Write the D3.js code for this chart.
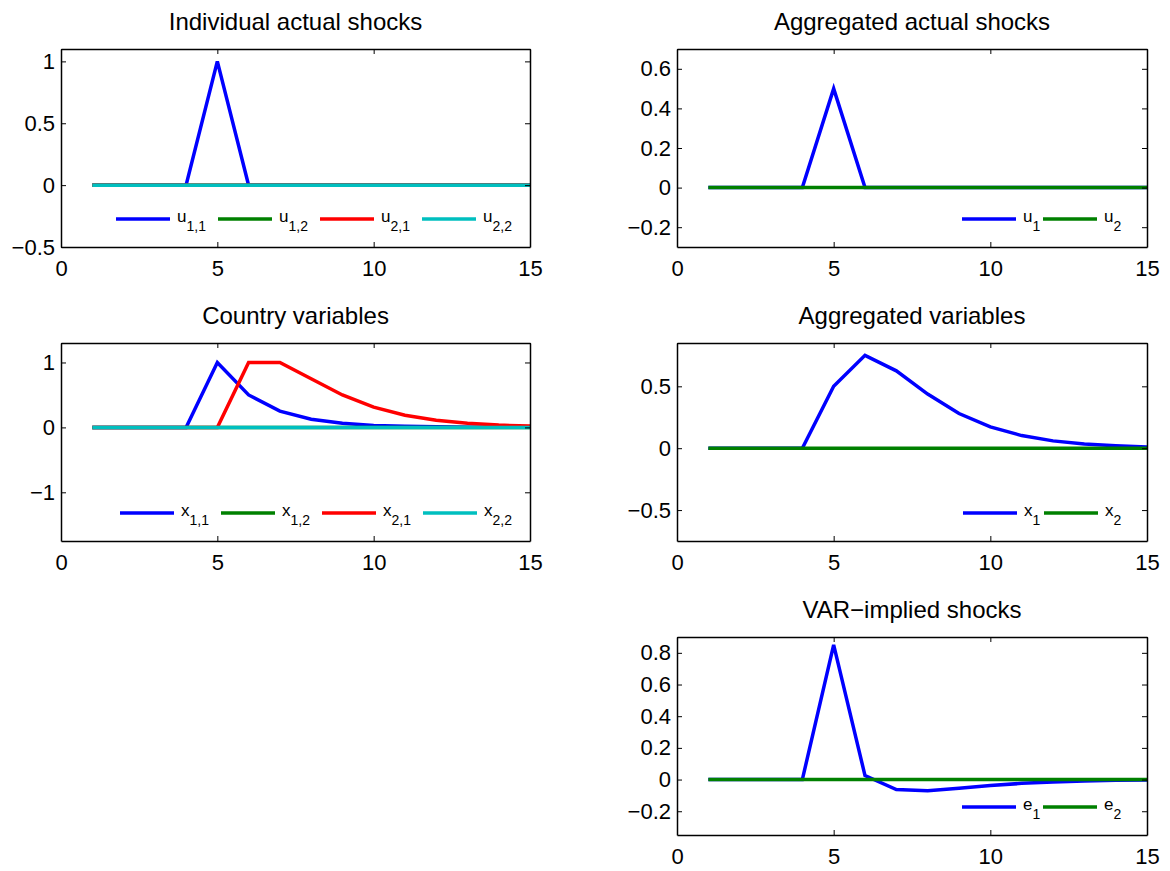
<!DOCTYPE html>
<html>
<head>
<meta charset="utf-8">
<script src="https://cdn.jsdelivr.net/npm/d3@7"></script>
<style>
  body { margin: 0; background: #fff; }
  svg { font-family: "Liberation Sans", Arial, sans-serif; }
</style>
</head>
<body>
<script>
// periods 1..15
var periods = [1, 2, 3, 4, 5, 6, 7, 8, 9, 10, 11, 12, 13, 14, 15];

// individual actual shocks
var u11 = [0, 0, 0, 0, 1, 0, 0, 0, 0, 0, 0, 0, 0, 0, 0];
var u12 = [0, 0, 0, 0, 0, 0, 0, 0, 0, 0, 0, 0, 0, 0, 0];
var u21 = [0, 0, 0, 0, 0, 0, 0, 0, 0, 0, 0, 0, 0, 0, 0];
var u22 = [0, 0, 0, 0, 0, 0, 0, 0, 0, 0, 0, 0, 0, 0, 0];

// aggregated actual shocks
var u1 = [0, 0, 0, 0, 0.5, 0, 0, 0, 0, 0, 0, 0, 0, 0, 0];
var u2 = [0, 0, 0, 0, 0, 0, 0, 0, 0, 0, 0, 0, 0, 0, 0];

// country variables
var x11 = [0, 0, 0, 0, 1, 0.5, 0.25, 0.125, 0.0625, 0.031, 0.016, 0.008, 0.004, 0.002, 0.001];
var x12 = [0, 0, 0, 0, 0, 0, 0, 0, 0, 0, 0, 0, 0, 0, 0];
var x21 = [0, 0, 0, 0, 0, 1, 1, 0.75, 0.5, 0.3125, 0.1875, 0.109, 0.0625, 0.035, 0.02];
var x22 = [0, 0, 0, 0, 0, 0, 0, 0, 0, 0, 0, 0, 0, 0, 0];

// aggregated variables
var x1 = [0, 0, 0, 0, 0.5, 0.75, 0.625, 0.4375, 0.28, 0.172, 0.102, 0.059, 0.033, 0.019, 0.01];
var x2 = [0, 0, 0, 0, 0, 0, 0, 0, 0, 0, 0, 0, 0, 0, 0];

// VAR-implied shocks
var e1 = [0, 0, 0, 0, 0.85, 0.025, -0.063, -0.07, -0.055, -0.038, -0.024, -0.015, -0.009, -0.005, -0.003];
var e2 = [0, 0, 0, 0, 0, 0, 0, 0, 0, 0, 0, 0, 0, 0, 0];

// tick labels
var xTicks = [0, 5, 10, 15];
var yTicks1 = [-0.5, 0, 0.5, 1];
var yTicks2 = [-0.2, 0, 0.2, 0.4, 0.6];
var yTicks3 = [-1, 0, 1];
var yTicks4 = [-0.5, 0, 0.5];
var yTicks5 = [-0.2, 0, 0.2, 0.4, 0.6, 0.8];

var colors = {blue: '#0000ff', green: '#008000', red: '#ff0000', cyan: '#00bfbf'};

var svg = d3.select('body').append('svg')
  .attr('width', 1170)
  .attr('height', 871);

// format like matlab: long minus, no trailing zeros
function fmt(v) {
  var s = String(Math.round(v * 100) / 100);
  return s.replace('-', '\u2212');
}

function drawPanel(p) {
  var x = d3.scaleLinear().domain([0, 15]).range([p.left, p.right]);
  var y = d3.scaleLinear().domain(p.yDomain).range([p.bottom, p.top]);
  var g = svg.append('g');

  // title
  g.append('text')
    .attr('x', (p.left + p.right) / 2)
    .attr('y', p.top - 19.5)
    .attr('text-anchor', 'middle')
    .style('font-size', '24px')
    .text(p.title);

  // data lines
  var line = d3.line()
    .x(function(d, i) { return x(periods[i]); })
    .y(function(d) { return y(d); });

  p.series.forEach(function(s) {
    g.append('path')
      .datum(s.values)
      .attr('d', line)
      .attr('fill', 'none')
      .attr('stroke', s.color)
      .attr('stroke-width', 3.5);
  });

  // axes, ticks pointing inward on all four sides
  var tick = 5;
  g.append('g')
    .attr('transform', 'translate(0,' + p.bottom + ')')
    .call(d3.axisBottom(x).tickValues(xTicks).tickSizeInner(-tick).tickSizeOuter(0).tickPadding(13).tickFormat(fmt));
  g.append('g')
    .attr('transform', 'translate(0,' + p.top + ')')
    .call(d3.axisTop(x).tickValues(xTicks).tickSizeInner(-tick).tickSizeOuter(0).tickFormat(''));
  g.append('g')
    .attr('transform', 'translate(' + p.left + ',0)')
    .call(d3.axisLeft(y).tickValues(p.yTicks).tickSizeInner(-tick).tickSizeOuter(0).tickPadding(6).tickFormat(fmt));
  g.append('g')
    .attr('transform', 'translate(' + p.right + ',0)')
    .call(d3.axisRight(y).tickValues(p.yTicks).tickSizeInner(-tick).tickSizeOuter(0).tickFormat(''));

  g.selectAll('.domain').attr('stroke', '#000').attr('stroke-width', 1.5);
  g.selectAll('.tick line').attr('stroke', '#000').attr('stroke-width', 1);
  g.selectAll('.tick text')
    .attr('fill', '#000')
    .style('font-size', '22px')
    .style('font-family', '"Liberation Sans", Arial, sans-serif');

  // legend, no box
  var ly = p.bottom - 28;
  p.series.forEach(function(s, i) {
    var lx = p.legendX + i * p.legendStep;
    g.append('line')
      .attr('x1', lx).attr('x2', lx + 54)
      .attr('y1', ly).attr('y2', ly)
      .attr('stroke', s.color)
      .attr('stroke-width', 3.5);
    var t = g.append('text')
      .attr('x', lx + 61)
      .attr('y', ly + 2.5)
      .style('font-size', '17px');
    t.append('tspan').text(s.name);
    t.append('tspan').attr('dy', 9).style('font-size', '14px').text(s.sub);
  });
}

var L = {left: 61, right: 530};
var R = {left: 677, right: 1147};
var rows = [{top: 49, bottom: 247}, {top: 343, bottom: 541}, {top: 637, bottom: 835}];

drawPanel({
  title: 'Individual actual shocks', left: L.left, right: L.right, top: rows[0].top, bottom: rows[0].bottom,
  yDomain: [-0.5, 1.1], yTicks: yTicks1, legendX: 116, legendStep: 102,
  series: [
    {name: 'u', sub: '1,1', values: u11, color: colors.blue},
    {name: 'u', sub: '1,2', values: u12, color: colors.green},
    {name: 'u', sub: '2,1', values: u21, color: colors.red},
    {name: 'u', sub: '2,2', values: u22, color: colors.cyan}
  ]
});

drawPanel({
  title: 'Aggregated actual shocks', left: R.left, right: R.right, top: rows[0].top, bottom: rows[0].bottom,
  yDomain: [-0.3, 0.7], yTicks: yTicks2, legendX: 962, legendStep: 81,
  series: [
    {name: 'u', sub: '1', values: u1, color: colors.blue},
    {name: 'u', sub: '2', values: u2, color: colors.green}
  ]
});

drawPanel({
  title: 'Country variables', left: L.left, right: L.right, top: rows[1].top, bottom: rows[1].bottom,
  yDomain: [-1.75, 1.3], yTicks: yTicks3, legendX: 120, legendStep: 101,
  series: [
    {name: 'x', sub: '1,1', values: x11, color: colors.blue},
    {name: 'x', sub: '1,2', values: x12, color: colors.green},
    {name: 'x', sub: '2,1', values: x21, color: colors.red},
    {name: 'x', sub: '2,2', values: x22, color: colors.cyan}
  ]
});

drawPanel({
  title: 'Aggregated variables', left: R.left, right: R.right, top: rows[1].top, bottom: rows[1].bottom,
  yDomain: [-0.75, 0.85], yTicks: yTicks4, legendX: 963, legendStep: 81,
  series: [
    {name: 'x', sub: '1', values: x1, color: colors.blue},
    {name: 'x', sub: '2', values: x2, color: colors.green}
  ]
});

drawPanel({
  title: 'VAR\u2212implied shocks', left: R.left, right: R.right, top: rows[2].top, bottom: rows[2].bottom,
  yDomain: [-0.35, 0.9], yTicks: yTicks5, legendX: 962, legendStep: 81,
  series: [
    {name: 'e', sub: '1', values: e1, color: colors.blue},
    {name: 'e', sub: '2', values: e2, color: colors.green}
  ]
});
</script>
</body>
</html>
